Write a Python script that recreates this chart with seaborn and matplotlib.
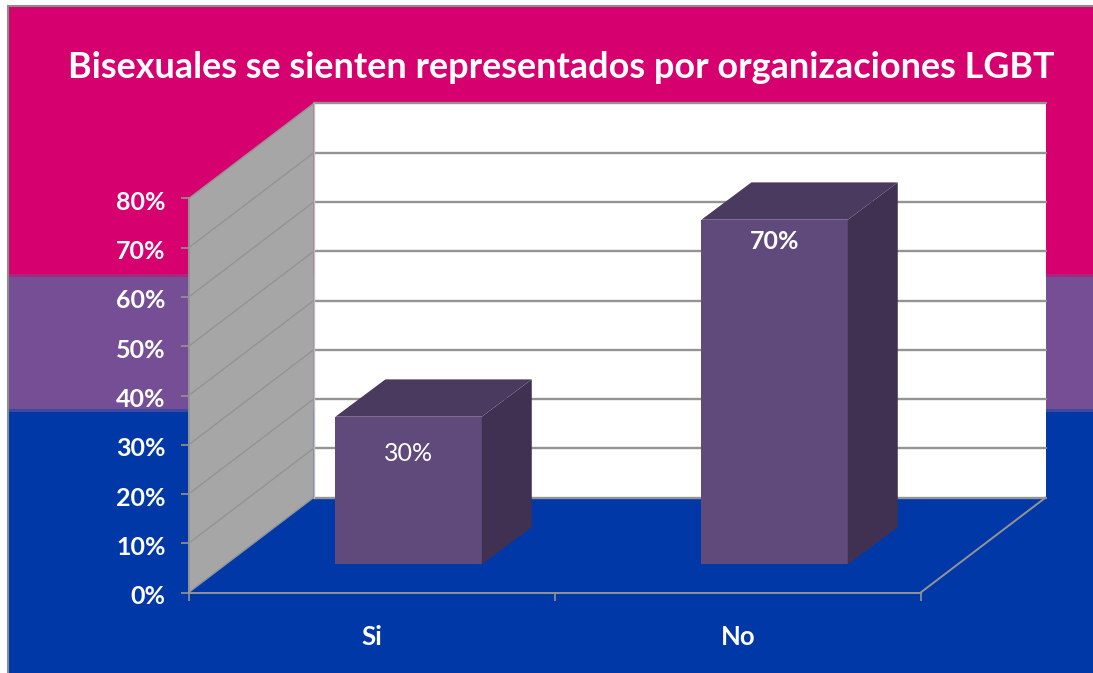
import matplotlib
import matplotlib.pyplot as plt
import pandas as pd
import seaborn as sns
from matplotlib.patches import Polygon, Rectangle
from matplotlib.transforms import ScaledTranslation

matplotlib.use("Agg")

W, H = 1093, 673

TITLE = "Bisexuales se sienten representados por organizaciones LGBT"
categories = ["Si", "No"]
values = [30, 70]
value_labels = ["30%", "70%"]
y_ticks = [0, 10, 20, 30, 40, 50, 60, 70, 80]
y_tick_labels = ["0%", "10%", "20%", "30%", "40%", "50%", "60%", "70%", "80%"]

PINK = "#D6006F"
PURPLE = "#754E96"
BLUE = "#0038A8"
FRONT = "#604A7B"
TOP = "#4A3A60"
SIDE = "#403152"
WALL = "#A6A6A6"
GRID = "#949494"

# depth of the fake 3d box, in data units (category widths / percent)
DEPTH_X = 125 / 366
DEPTH_Y = 95 / 4.925
# bars stand a bit behind the front edge of the floor
BAR_POS = 0.295
BAR_DEPTH_X = 0.40
BAR_DEPTH_Y = 0.393
YMAX = y_ticks[-1]

sns.set_style("white")
plt.rcParams["font.family"] = ["Lato", "DejaVu Sans"]


def add_band(fig, top, bottom, color):
    fig.add_artist(
        Rectangle((8 / W, 1 - bottom / H), 1, (bottom - top) / H, transform=fig.transFigure, color=color, lw=0, zorder=-10)
    )


def draw_box(ax):
    x0, x1 = -0.5, 1.5
    ax.add_patch(
        Polygon(
            [(x0 + DEPTH_X, DEPTH_Y), (x1 + DEPTH_X, DEPTH_Y), (x1 + DEPTH_X, YMAX + DEPTH_Y), (x0 + DEPTH_X, YMAX + DEPTH_Y)],
            facecolor="white",
            edgecolor="none",
            clip_on=False,
            zorder=1,
        )
    )
    ax.add_patch(
        Polygon(
            [(x0, 0), (x0 + DEPTH_X, DEPTH_Y), (x0 + DEPTH_X, YMAX + DEPTH_Y), (x0, YMAX)],
            facecolor=WALL,
            edgecolor="none",
            clip_on=False,
            zorder=1,
        )
    )
    for t in y_ticks:
        ax.plot([x0, x0 + DEPTH_X], [t, t + DEPTH_Y], color=GRID, lw=1.0, clip_on=False, zorder=2)
        ax.plot([x0 + DEPTH_X, x1 + DEPTH_X], [t + DEPTH_Y, t + DEPTH_Y], color=GRID, lw=1.7, clip_on=False, zorder=2)
    ax.plot([x0 + DEPTH_X, x0 + DEPTH_X], [DEPTH_Y, YMAX + DEPTH_Y], color="#BDBDBD", lw=1.0, clip_on=False, zorder=2)
    ax.plot([x1, x1 + DEPTH_X], [0, DEPTH_Y], color=GRID, lw=1.4, clip_on=False, zorder=2)


def draw_bars(ax):
    df = pd.DataFrame({"respuesta": categories, "valor": values})
    sns.barplot(data=df, x="respuesta", y="valor", order=categories, color=FRONT, saturation=1, width=0.4, ax=ax)
    ox, oy = DEPTH_X * BAR_POS, DEPTH_Y * BAR_POS
    dx, dy = DEPTH_X * BAR_DEPTH_X, DEPTH_Y * BAR_DEPTH_Y
    drops = [7.5, 4.5]
    weights = ["normal", "bold"]
    for bar, label, drop, weight in zip(ax.patches, value_labels, drops, weights):
        bar.set_x(bar.get_x() + ox)
        bar.set_y(oy)
        bar.set_zorder(5)
        bar.set_linewidth(0)
        bar.set_clip_on(False)
        x, w, h = bar.get_x(), bar.get_width(), bar.get_height()
        ax.add_patch(
            Polygon([(x + w, oy), (x + w + dx, oy + dy), (x + w + dx, oy + h + dy), (x + w, oy + h)], facecolor=SIDE, edgecolor="none", clip_on=False, zorder=5)
        )
        ax.add_patch(
            Polygon([(x, oy + h), (x + w, oy + h), (x + w + dx, oy + h + dy), (x + dx, oy + h + dy)], facecolor=TOP, edgecolor="none", clip_on=False, zorder=5)
        )
        ax.text(x + w / 2, oy + h - drop, label, color="white", fontsize=18, fontweight=weight, ha="center", va="center", zorder=6)


def main():
    fig = plt.figure(figsize=(W / 100, H / 100), dpi=100, facecolor="white")
    add_band(fig, 6, 275, PINK)
    add_band(fig, 275, 410, PURPLE)
    add_band(fig, 410, H + 1, BLUE)
    add_band(fig, 274, 276.5, "#A6287F")
    add_band(fig, 409, 411.5, "#3A4AA0")
    fig.add_artist(plt.Line2D([7.5 / W, 7.5 / W], [0, 1 - 5.5 / H], color="#8C8C8C", lw=1.5, zorder=-5))
    fig.add_artist(plt.Line2D([7.5 / W, 1], [1 - 5.5 / H, 1 - 5.5 / H], color="#8C8C8C", lw=1.5, zorder=-5))

    ax = fig.add_axes([188.7 / W, (H - 592.5) / H, 732 / W, 394 / H])
    ax.patch.set_visible(False)
    draw_bars(ax)
    draw_box(ax)

    ax.set_xlim(-0.5, 1.5)
    ax.set_ylim(0, YMAX)
    ax.set_xlabel("")
    ax.set_ylabel("")
    ax.set_xticks([-0.5, 0.5, 1.5], labels=["", "", ""])
    ax.set_xticks([0, 1], labels=categories, minor=True)
    ax.set_yticks(y_ticks, labels=y_tick_labels)
    ax.tick_params(axis="x", which="major", length=6, width=1.2, color=GRID, direction="out", bottom=True)
    ax.tick_params(axis="x", which="minor", length=0, pad=23.5, labelsize=18.5, labelcolor="white", bottom=False)
    ax.tick_params(axis="y", length=5.5, width=1.2, color=GRID, pad=11, labelsize=18, labelcolor="white", left=True)
    for lab in ax.get_xticklabels(minor=True) + ax.get_yticklabels():
        lab.set_fontweight("bold")
    # labels in the original sit slightly under their ticks
    nudge = ScaledTranslation(0, -2 / 100, fig.dpi_scale_trans)
    for lab in ax.get_yticklabels():
        lab.set_transform(lab.get_transform() + nudge)
    sns.despine(ax=ax, top=True, right=True)
    for side in ("left", "bottom"):
        ax.spines[side].set_color(GRID)
        ax.spines[side].set_linewidth(1.4)
        ax.spines[side].set_zorder(4)

    fig.text(561 / W, 1 - 68 / H, TITLE, color="white", fontsize=25.9, fontweight="bold", ha="center", va="center")
    fig.savefig("out.png", dpi=100)
    plt.close(fig)


if __name__ == "__main__":
    main()
